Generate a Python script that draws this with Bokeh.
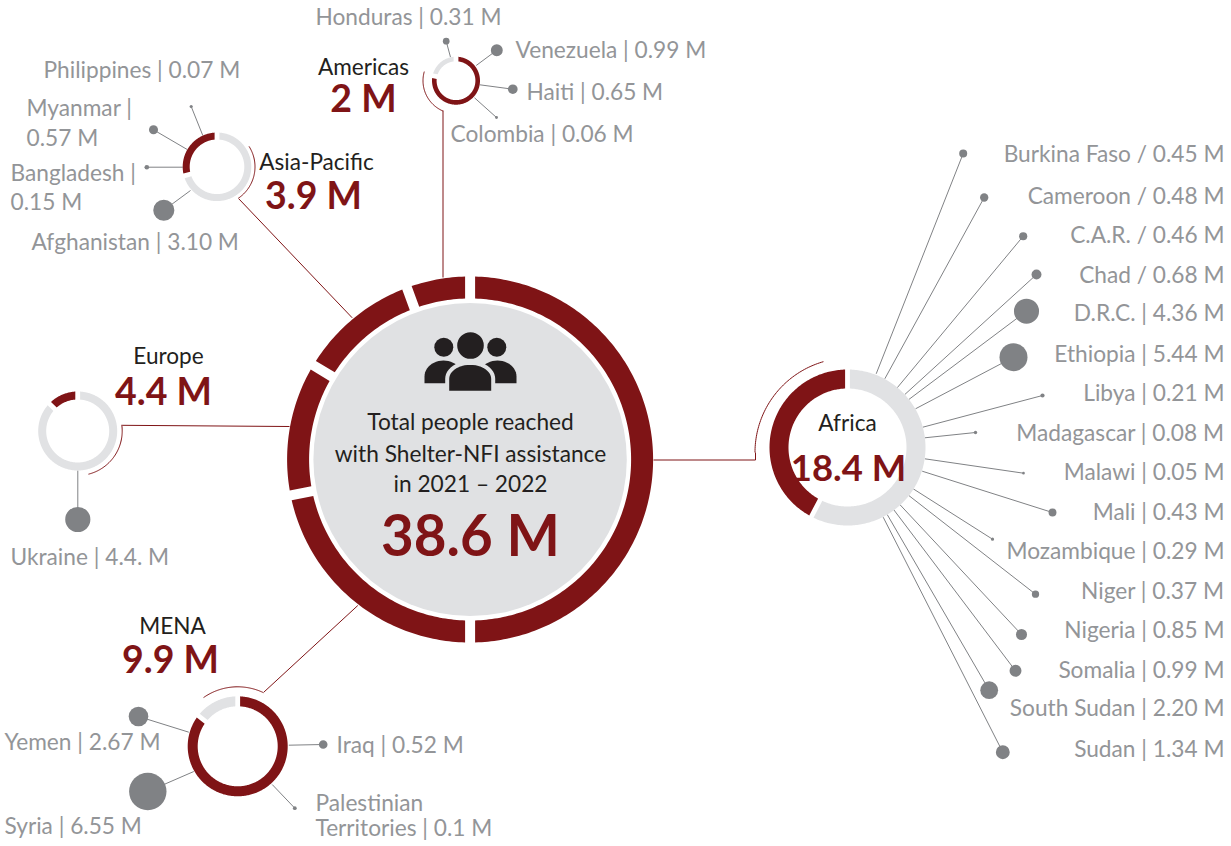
import math
from bokeh.plotting import figure
from bokeh.models import ColumnDataSource
from bokeh.core.properties import value
from bokeh.embed import file_html
from bokeh.resources import INLINE

# ---------- data ----------
total_label = "38.6 M"
regions = ["Africa", "MENA", "Europe", "Asia-Pacific", "Americas"]
region_values = [18.4, 9.9, 4.4, 3.9, 2.0]
region_labels = ["18.4 M", "9.9 M", "4.4 M", "3.9 M", "2 M"]

africa_names = ["Burkina Faso / 0.45 M", "Cameroon / 0.48 M", "C.A.R. / 0.46 M", "Chad / 0.68 M",
                "D.R.C. | 4.36 M", "Ethiopia | 5.44 M", "Libya | 0.21 M", "Madagascar | 0.08 M",
                "Malawi | 0.05 M", "Mali | 0.43 M", "Mozambique | 0.29 M", "Niger | 0.37 M",
                "Nigeria | 0.85 M", "Somalia | 0.99 M", "South Sudan | 2.20 M", "Sudan | 1.34 M"]
africa_values = [0.45, 0.48, 0.46, 0.68, 4.36, 5.44, 0.21, 0.08, 0.05, 0.43, 0.29, 0.37, 0.85, 0.99, 2.20, 1.34]
americas_values = [0.31, 0.99, 0.65, 0.06]   # Honduras, Venezuela, Haiti, Colombia
asia_values = [0.07, 0.57, 0.15, 3.10]       # Philippines, Myanmar, Bangladesh, Afghanistan
europe_values = [4.4]                        # Ukraine
mena_values = [2.67, 6.55, 0.52, 0.10]       # Yemen, Syria, Iraq, Palestinian Territories

# ---------- layout (pixels in page space, degrees clockwise from top) ----------
W, H = 1231, 846
RED, LIGHT, DISK, BUB, TXT, INK = "#7f1416", "#e1e2e4", "#e0e1e3", "#808285", "#939598", "#231f20"
FONT = value("Lato")
BASE_K = 0.38  # shift that puts Bokeh's svg text on the wanted baseline

main = dict(cx=469.6, cy=459, ro=183, ri=161, disk=156.7, breaks=[0, 180, 258.7, 301, 339.8, 360])

# donut: centre, outer radius, thickness, [(start, end, colour)]
donuts = [
    (847, 447, 78, 19, [(0, 207.6, LIGHT), (207.6, 360, RED)]),
    (237.2, 745.8, 50, 10, [(0, 307.8, RED), (307.8, 360, LIGHT)]),
    (77.2, 430.5, 39.5, 8, [(0, 314, LIGHT), (314, 360, RED)]),
    (216.5, 166.3, 34.3, 7, [(0, 254.6, LIGHT), (254.6, 360, RED)]),
    (455.5, 80.2, 24, 4.6, [(0, 282, RED), (282, 360, LIGHT)]),
]
# thin bracket arcs: centre, radius, start, end
brackets = [(849, 452, 94.5, 270, 344), (237.2, 745.8, 59.5, -35, 25.7), (77.2, 430.5, 44.5, 82, 166),
            (216.5, 166.3, 38, 57.5, 146), (455.5, 80.2, 33, 203, 286)]
connectors = [([755, 755, 653], [452, 459.5, 459.5]), ([263.3, 357.3], [691.7, 605]),
              ([121.7, 289], [424.8, 426]), ([238.3, 351.7], [198.3, 317.3]), ([442.5, 442.5], [110, 277])]

# bubble centre x, y, and where its leader meets the donut
africa_pos = [(962.7, 153, 875.7, 373.3), (983.7, 197, 884.3, 378.3), (1022.7, 235.7, 896.7, 387.3),
              (1036, 274, 904.3, 394), (1026, 310.7, 908.3, 399), (1013, 356.7, 915, 408.3),
              (1042, 395, 922.3, 426.7), (975, 432, 924.3, 437.3), (1023, 472.7, 924.3, 458.3),
              (1052, 512, 921.7, 470.7), (992, 538.7, 912.7, 488.3), (1035, 593.7, 908.3, 495),
              (1021, 634, 899.3, 504), (1015, 670.3, 893.3, 509.3), (988.7, 689.7, 886.7, 514),
              (1002.3, 751.7, 882.7, 516.7)]
americas_pos = [(445.7, 40.7, 450, 56.7), (496.3, 49.7, 475.7, 65), (512.3, 88.7, 479.3, 84.3), (496, 117, 474, 97.3)]
asia_pos = [(190.7, 106, 202.3, 135), (153, 129.3, 186.7, 149), (146.3, 166.7, 182.3, 166.7), (163.3, 209.7, 190, 190)]
europe_pos = [(77.3, 519, 77.3, 470)]
mena_pos = [(138, 716, 188.3, 731.7), (147.3, 791, 193.3, 771), (322.7, 744, 288.3, 744.7), (294.3, 807.7, 271.7, 784)]

africa_base = [162, 204, 243, 283, 321, 362, 401, 441, 480, 520, 559, 599, 638, 678, 716, 757]
left_labels = [("Honduras | 0.31 M", 315, 25), ("Venezuela | 0.99 M", 515, 58), ("Haiti | 0.65 M", 526, 100),
               ("Colombia | 0.06 M", 450, 142), ("Philippines | 0.07 M", 43, 78), ("Myanmar |", 26, 116),
               ("0.57 M", 26, 146), ("Bangladesh |", 10, 181), ("0.15 M", 10, 210),
               ("Afghanistan | 3.10 M", 31, 250), ("Ukraine | 4.4. M", 10, 565), ("Yemen | 2.67 M", 4, 750),
               ("Syria | 6.55 M", 4, 834), ("Iraq | 0.52 M", 336, 753), ("Palestinian", 315, 811),
               ("Territories | 0.1 M", 315, 836)]
# region name position, value position (centre x, baseline y)
region_text = {"Africa": (847, 431, 848, 480), "MENA": (172, 634, 170, 672), "Europe": (168, 364, 163, 404),
               "Asia-Pacific": (316, 170, 313, 208), "Americas": (363, 75, 363, 111)}
region_size = {"Africa": 36.5}
center_lines = [("Total people reached", 430), ("with Shelter-NFI assistance", 462), ("in 2021 \u2013 2022", 492)]
radius_override = {6.55: 18.7, 0.29: 1.6, 0.21: 2.1}


def pt(cx, cy, r, a):
    t = math.radians(a)
    return cx + r * math.sin(t), cy - r * math.cos(t)


def segment(cx, cy, ro, ri, a0, a1, half_gap):
    """Ring segment with a constant-width gap at either end."""
    xs, ys = [], []
    for r, s, e in ((ro, a0 + math.degrees(math.asin(half_gap / ro)), a1 - math.degrees(math.asin(half_gap / ro))),
                    (ri, a1 - math.degrees(math.asin(half_gap / ri)), a0 + math.degrees(math.asin(half_gap / ri)))):
        n = max(8, int(abs(e - s)))
        for i in range(n + 1):
            x, y = pt(cx, cy, r, s + (e - s) * i / n)
            xs.append(x)
            ys.append(y)
    return xs, ys


def bubble_r(v):
    return radius_override.get(v, 6.0 * math.sqrt(v))


p = figure(width=W, height=H, x_range=(0, W), y_range=(H, 0), toolbar_location=None,
           output_backend="svg", min_border=0, outline_line_color=None)
p.axis.visible = False
p.grid.visible = False
p.background_fill_color = "white"

# leaders
all_vals = africa_values + americas_values + asia_values + europe_values + mena_values
all_pos = africa_pos + americas_pos + asia_pos + europe_pos + mena_pos
p.multi_line([[q[0], q[2]] for q in all_pos], [[q[1], q[3]] for q in all_pos],
             line_color="#808285", line_width=1)
p.circle([q[0] for q in all_pos], [q[1] for q in all_pos], radius=[bubble_r(v) for v in all_vals],
         fill_color=BUB, line_color=None)

# connectors + brackets
for xs, ys in connectors:
    p.line(xs, ys, line_color=RED, line_width=1)
for cx, cy, r, a0, a1 in brackets:
    pts = [pt(cx, cy, r, a0 + (a1 - a0) * i / 60) for i in range(61)]
    p.line([q[0] for q in pts], [q[1] for q in pts], line_color=RED, line_width=1)

# main ring
p.circle([main["cx"]], [main["cy"]], radius=main["disk"], fill_color=DISK, line_color=None)
bk = main["breaks"]
segs = [segment(main["cx"], main["cy"], main["ro"], main["ri"], bk[i], bk[i + 1], 5) for i in range(len(regions))]
p.patches([s[0] for s in segs], [s[1] for s in segs], fill_color=RED, line_color=None)

# region donuts
for cx, cy, ro, th, parts in donuts:
    gap = 2.4
    for a0, a1, col in parts:
        xs, ys = segment(cx, cy, ro, ro - th, a0, a1, gap)
        p.patch(xs, ys, fill_color=col, line_color=None)

# people icon
def dome(x0, x1, top, bottom, shoulder):
    mx, rx = (x0 + x1) / 2, (x1 - x0) / 2
    xs, ys = [x0], [bottom]
    for i in range(25):
        t = math.pi * i / 24
        xs.append(mx - rx * math.cos(t))
        ys.append(top + shoulder * (1 - math.sin(t)))
    xs.append(x1)
    ys.append(bottom)
    return xs, ys


for x0, x1 in ((424, 462), (478, 516)):
    xs, ys = dome(x0, x1, 360, 382.7, 16)
    p.patch(xs, ys, fill_color=INK, line_color=None)
xs, ys = dome(446.7, 492.7, 362.3, 392.3, 16)
p.patch(xs, ys, fill_color=INK, line_color=DISK, line_width=4)
p.circle([443.3, 496.3, 470], [346.7, 346.7, 345], radius=[9.5, 9.5, 13.3], fill_color=INK, line_color=None)

# text
def text(xs, ys, labels, size, color, align, style="normal"):
    src = ColumnDataSource(dict(x=xs, y=[y - BASE_K * size for y in ys], t=labels))
    p.text("x", "y", text="t", source=src, text_font=FONT, text_font_size=f"{size}px", text_color=color,
           text_align=align, text_baseline="alphabetic", text_font_style=style)


text([1224] * len(africa_names), africa_base, africa_names, 22.7, TXT, "right")
text([q[1] for q in left_labels], [q[2] for q in left_labels], [q[0] for q in left_labels], 22.7, TXT, "left")
text([470] * 3, [q[1] for q in center_lines], [q[0] for q in center_lines], 22.7, INK, "center")
text([470], [555], [total_label], 56.5, RED, "center", "bold")
for name, lab in zip(regions, region_labels):
    nx, ny, vx, vy = region_text[name]
    text([nx], [ny], [name], 22.6, INK, "center")
    text([vx], [vy], [lab], region_size.get(name, 37.5), RED, "center", "bold")

open("out.html", "w").write(file_html(p, INLINE))
